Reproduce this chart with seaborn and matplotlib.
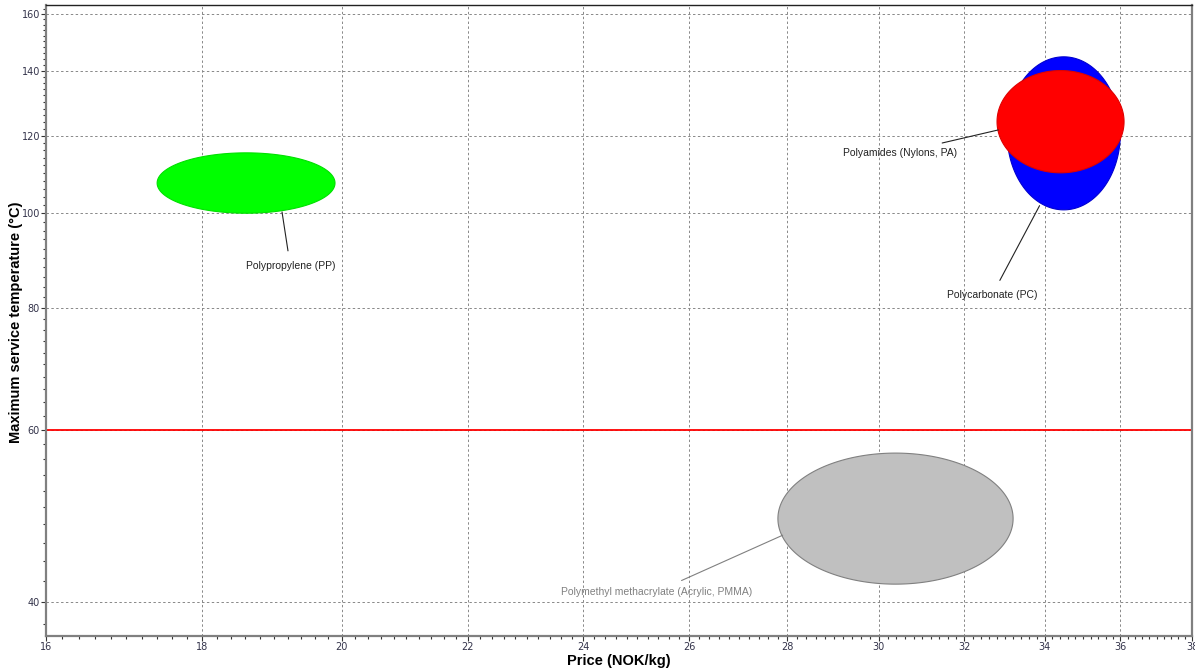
import numpy as np
import pandas as pd
import matplotlib
matplotlib.use("Agg")
import matplotlib.pyplot as plt
import seaborn as sns
from matplotlib.ticker import FixedLocator, MultipleLocator, NullFormatter

# Material property ranges: price (NOK/kg) and maximum service temperature (°C)
materials = ["Polypropylene (PP)", "Polycarbonate (PC)", "Polyamides (Nylons, PA)",
             "Polymethyl methacrylate (Acrylic, PMMA)"]
price_lo = [17.4, 33.05, 32.8, 27.8]
price_hi = [19.9, 36.0, 36.1, 33.2]
temp_lo = [100.0, 100.8, 110.0, 41.7]
temp_hi = [115.3, 144.6, 140.0, 56.8]
colors = ["#00ff00", "#0000ff", "#ff0000", "#c0c0c0"]
edge_colors = ["#00e000", "#0000d0", "#e00000", "#808080"]

# Label anchor (on the bubble) and label text positions
label_xy = [(19.12, 100.3), (33.87, 101.8), (32.83, 121.7), (27.9, 46.8)]
label_text = [(19.24, 88.3), (32.68, 82.5), (30.48, 115.3), (25.37, 40.97)]
label_colors = ["#222222", "#222222", "#222222", "#808080"]

limit_temp = 60.0

x_ticks = [16, 18, 20, 22, 24, 26, 28, 30, 32, 34, 36, 38]
y_ticks = [40, 60, 80, 100, 120, 140, 160]

sns.set_theme(style="white")
plt.rcParams["font.family"] = ["Liberation Sans", "DejaVu Sans"]

fig = plt.figure(figsize=(11.95, 6.69), dpi=100)
ax = fig.add_axes([46 / 1195, 1 - 636 / 669, (1192 - 46) / 1195, (636 - 5) / 669])
ax.set_xscale("log")
ax.set_yscale("log")
ax.set_xlim(16, 38)
ax.set_ylim(36.9, 163.4)

# Bubbles: ellipses inscribed in each log-space range box
t = np.linspace(0, 2 * np.pi, 400)
for i in range(len(materials)):
    lx0, lx1 = np.log(price_lo[i]), np.log(price_hi[i])
    ly0, ly1 = np.log(temp_lo[i]), np.log(temp_hi[i])
    cx, cy = (lx0 + lx1) / 2, (ly0 + ly1) / 2
    rx, ry = (lx1 - lx0) / 2, (ly1 - ly0) / 2
    ex = np.exp(cx + rx * np.cos(t))
    ey = np.exp(cy + ry * np.sin(t))
    ax.fill(ex, ey, facecolor=colors[i], edgecolor=edge_colors[i], lw=0.8, zorder=3 + i)

# Service temperature limit
limit_df = pd.DataFrame({"price": [16, 38], "temp": [limit_temp, limit_temp]})
sns.lineplot(data=limit_df, x="price", y="temp", color="#ff0000", lw=1.3, ax=ax, zorder=2)

for i, name in enumerate(materials):
    ax.annotate(name, xy=label_xy[i], xytext=label_text[i], textcoords="data",
                ha="center", va="center", fontsize=7.5, color=label_colors[i],
                arrowprops=dict(arrowstyle="-", color=label_colors[i], lw=0.8,
                                shrinkA=5, shrinkB=0), zorder=10)

ax.xaxis.set_major_locator(FixedLocator(x_ticks))
ax.xaxis.set_minor_locator(MultipleLocator(0.2))
ax.yaxis.set_major_locator(FixedLocator(y_ticks))
ax.yaxis.set_minor_locator(MultipleLocator(2))
ax.set_xticklabels([str(v) for v in x_ticks])
ax.set_yticklabels([str(v) for v in y_ticks])
ax.xaxis.set_minor_formatter(NullFormatter())
ax.yaxis.set_minor_formatter(NullFormatter())

ax.tick_params(axis="both", which="major", direction="out", length=3.5, width=0.8,
               color="#333333", labelsize=7, labelcolor="#33334a", pad=0.8,
               bottom=True, left=True, top=False, right=False)
ax.tick_params(axis="both", which="minor", direction="out", length=2.0, width=0.8,
               color="#333333", bottom=True, left=True, top=False, right=False)
for lab in ax.get_xticklabels() + ax.get_yticklabels():
    lab.set_family("DejaVu Sans")

ax.grid(True, which="major", linestyle=(0, (2.5, 2.5)), color="#888888", lw=0.7)
ax.set_axisbelow(True)

for side in ["left", "bottom", "right"]:
    ax.spines[side].set_color("#808080")
    ax.spines[side].set_linewidth(1.6)
ax.spines["top"].set_color("#222222")
ax.spines["top"].set_linewidth(1.0)

ax.set_xlabel("Price (NOK/kg)", fontsize=10.5, fontweight="bold", color="black")
ax.set_ylabel("Maximum service temperature (°C)", fontsize=10.5, fontweight="bold",
              color="black")
ax.xaxis.set_label_coords(0.4995, -(654 - 636) / 631)
ax.yaxis.set_label_coords(-(46 - 23.5) / 1146, 0.497)

fig.savefig("out.png", dpi=100)
